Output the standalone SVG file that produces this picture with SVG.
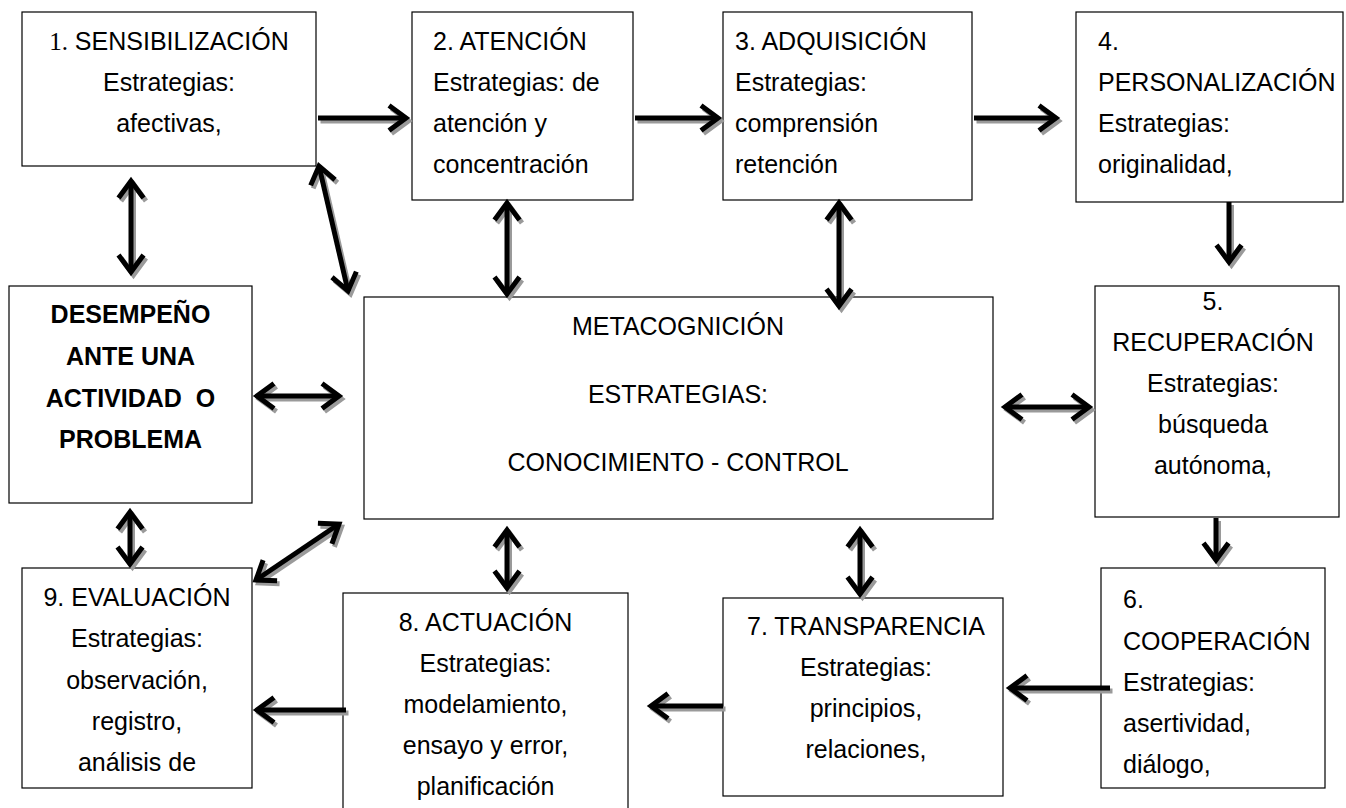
<svg xmlns="http://www.w3.org/2000/svg" width="1346" height="808" viewBox="0 0 1346 808">
<style>
.box{fill:#fff;stroke:#000;stroke-width:1.2}
.t{font-family:"Liberation Sans",Arial,sans-serif;font-size:25px;fill:#000}
.c{text-anchor:middle}
.b{font-weight:bold}
.ln{stroke:#000;stroke-width:5;fill:none}
.sh{stroke:#9a9a9a;stroke-width:5;fill:none}
</style>
<defs>
<marker id="ah" viewBox="-22 -16 28 32" refX="0" refY="0" markerWidth="28" markerHeight="32" markerUnits="userSpaceOnUse" orient="auto-start-reverse">
<path d="M-17,-12.5 L0,0 L-17,12.5" fill="none" stroke="#000" stroke-width="5"/>
</marker>
<marker id="ahs" viewBox="-22 -16 28 32" refX="0" refY="0" markerWidth="28" markerHeight="32" markerUnits="userSpaceOnUse" orient="auto-start-reverse">
<path d="M-17,-12.5 L0,0 L-17,12.5" fill="none" stroke="#9a9a9a" stroke-width="5"/>
</marker>
</defs>
<rect width="1346" height="808" fill="#fff"/>

<g id="n1">
<rect class="box" x="22" y="12" width="294" height="154"/>
<text class="t c" x="169" y="50"><tspan font-family="Liberation Serif,serif">1.</tspan> SENSIBILIZACIÓN</text>
<text class="t c" x="169" y="91">Estrategias:</text>
<text class="t c" x="169" y="132">afectivas,</text>
</g>
<g id="n2">
<rect class="box" x="412" y="12" width="221" height="188"/>
<text class="t" x="433" y="50">2. ATENCIÓN</text>
<text class="t" x="433" y="91">Estrategias: de</text>
<text class="t" x="433" y="132">atención y</text>
<text class="t" x="433" y="173">concentración</text>
</g>
<g id="n3">
<rect class="box" x="723" y="12" width="249" height="188"/>
<text class="t" x="735" y="50">3. ADQUISICIÓN</text>
<text class="t" x="735" y="91">Estrategias:</text>
<text class="t" x="735" y="132">comprensión</text>
<text class="t" x="735" y="173">retención</text>
</g>
<g id="n4">
<rect class="box" x="1076" y="12" width="267" height="190"/>
<text class="t" x="1098" y="50">4.</text>
<text class="t" x="1098" y="91">PERSONALIZACIÓN</text>
<text class="t" x="1098" y="132">Estrategias:</text>
<text class="t" x="1098" y="173">originalidad,</text>
</g>
<g id="n5">
<rect class="box" x="1095" y="286" width="244" height="231"/>
<text class="t c" x="1213" y="310">5.</text>
<text class="t c" x="1213" y="351">RECUPERACIÓN</text>
<text class="t c" x="1213" y="392">Estrategias:</text>
<text class="t c" x="1213" y="433">búsqueda</text>
<text class="t c" x="1213" y="474">autónoma,</text>
</g>
<g id="n6">
<rect class="box" x="1101" y="568" width="224" height="220"/>
<text class="t" x="1123" y="608">6.</text>
<text class="t" x="1123" y="650">COOPERACIÓN</text>
<text class="t" x="1123" y="691">Estrategias:</text>
<text class="t" x="1123" y="732">asertividad,</text>
<text class="t" x="1123" y="773">diálogo,</text>
</g>
<g id="n7">
<rect class="box" x="723" y="598" width="280" height="198"/>
<text class="t c" x="866" y="635">7. TRANSPARENCIA</text>
<text class="t c" x="866" y="676">Estrategias:</text>
<text class="t c" x="866" y="717">principios,</text>
<text class="t c" x="866" y="758">relaciones,</text>
</g>
<g id="n8">
<rect class="box" x="343" y="593" width="285" height="230"/>
<text class="t c" x="485.5" y="631">8. ACTUACIÓN</text>
<text class="t c" x="485.5" y="672">Estrategias:</text>
<text class="t c" x="485.5" y="713">modelamiento,</text>
<text class="t c" x="485.5" y="754">ensayo y error,</text>
<text class="t c" x="485.5" y="795">planificación</text>
</g>
<g id="n9">
<rect class="box" x="22" y="568" width="230" height="220"/>
<text class="t c" x="137" y="606">9. EVALUACIÓN</text>
<text class="t c" x="137" y="647">Estrategias:</text>
<text class="t c" x="137" y="689">observación,</text>
<text class="t c" x="137" y="730">registro,</text>
<text class="t c" x="137" y="771">análisis de</text>
</g>
<g id="desempeno">
<rect class="box" x="9" y="286" width="243" height="217"/>
<text class="t c b" x="130.5" y="323">DESEMPEÑO</text>
<text class="t c b" x="130.5" y="365">ANTE UNA</text>
<text class="t c b" x="130.5" y="407" xml:space="preserve">ACTIVIDAD  O</text>
<text class="t c b" x="130.5" y="448">PROBLEMA</text>
</g>
<g id="meta">
<rect class="box" x="364" y="297" width="629" height="222"/>
<text class="t c" x="678" y="335">METACOGNICIÓN</text>
<text class="t c" x="678" y="403">ESTRATEGIAS:</text>
<text class="t c" x="678" y="471">CONOCIMIENTO - CONTROL</text>
</g>

<g id="connectors">
<g transform="translate(2.5,3)" class="shadow">
<path class="sh" marker-end="url(#ahs)" d="M318,118 L406,118"/>
<path class="sh" marker-end="url(#ahs)" d="M635,118 L718,118"/>
<path class="sh" marker-end="url(#ahs)" d="M974,118 L1056,118"/>
<path class="sh" marker-end="url(#ahs)" d="M1229,202 L1229,262"/>
<path class="sh" marker-end="url(#ahs)" d="M1216,518 L1216,560"/>
<path class="sh" marker-end="url(#ahs)" d="M1110,688 L1010,688"/>
<path class="sh" marker-end="url(#ahs)" d="M723,706 L651,706"/>
<path class="sh" marker-end="url(#ahs)" d="M346,710 L257,710"/>
<path class="sh" marker-start="url(#ahs)" marker-end="url(#ahs)" d="M131,181 L131,272"/>
<path class="sh" marker-start="url(#ahs)" marker-end="url(#ahs)" d="M319,166 L348,291"/>
<path class="sh" marker-start="url(#ahs)" marker-end="url(#ahs)" d="M507,203 L507,294"/>
<path class="sh" marker-start="url(#ahs)" marker-end="url(#ahs)" d="M839,203 L839,306"/>
<path class="sh" marker-start="url(#ahs)" marker-end="url(#ahs)" d="M257,396 L339,396"/>
<path class="sh" marker-start="url(#ahs)" marker-end="url(#ahs)" d="M1005,407 L1089,407"/>
<path class="sh" marker-start="url(#ahs)" marker-end="url(#ahs)" d="M507,530 L507,588"/>
<path class="sh" marker-start="url(#ahs)" marker-end="url(#ahs)" d="M860,530 L860,594"/>
<path class="sh" marker-start="url(#ahs)" marker-end="url(#ahs)" d="M130,512 L130,564"/>
<path class="sh" marker-start="url(#ahs)" marker-end="url(#ahs)" d="M256,580 L339,524"/>
</g>
<g class="main">
<path class="ln" marker-end="url(#ah)" d="M318,118 L406,118"/>
<path class="ln" marker-end="url(#ah)" d="M635,118 L718,118"/>
<path class="ln" marker-end="url(#ah)" d="M974,118 L1056,118"/>
<path class="ln" marker-end="url(#ah)" d="M1229,202 L1229,262"/>
<path class="ln" marker-end="url(#ah)" d="M1216,518 L1216,560"/>
<path class="ln" marker-end="url(#ah)" d="M1110,688 L1010,688"/>
<path class="ln" marker-end="url(#ah)" d="M723,706 L651,706"/>
<path class="ln" marker-end="url(#ah)" d="M346,710 L257,710"/>
<path class="ln" marker-start="url(#ah)" marker-end="url(#ah)" d="M131,181 L131,272"/>
<path class="ln" marker-start="url(#ah)" marker-end="url(#ah)" d="M319,166 L348,291"/>
<path class="ln" marker-start="url(#ah)" marker-end="url(#ah)" d="M507,203 L507,294"/>
<path class="ln" marker-start="url(#ah)" marker-end="url(#ah)" d="M839,203 L839,306"/>
<path class="ln" marker-start="url(#ah)" marker-end="url(#ah)" d="M257,396 L339,396"/>
<path class="ln" marker-start="url(#ah)" marker-end="url(#ah)" d="M1005,407 L1089,407"/>
<path class="ln" marker-start="url(#ah)" marker-end="url(#ah)" d="M507,530 L507,588"/>
<path class="ln" marker-start="url(#ah)" marker-end="url(#ah)" d="M860,530 L860,594"/>
<path class="ln" marker-start="url(#ah)" marker-end="url(#ah)" d="M130,512 L130,564"/>
<path class="ln" marker-start="url(#ah)" marker-end="url(#ah)" d="M256,580 L339,524"/>
</g>
</g>
</svg>
